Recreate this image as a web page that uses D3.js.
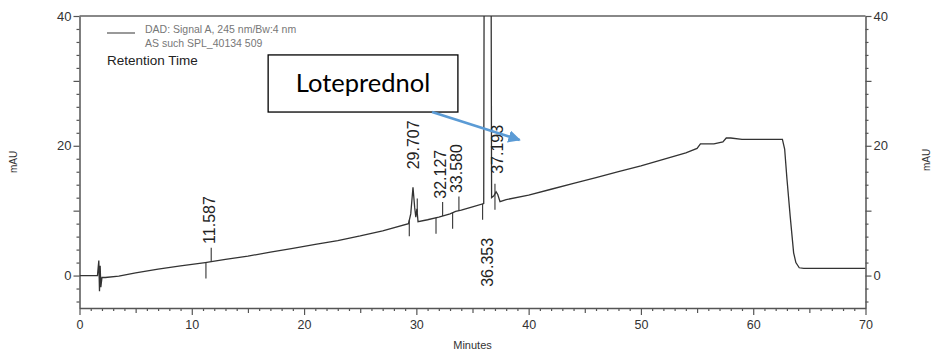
<!DOCTYPE html>
<html>
<head>
<meta charset="utf-8">
<script src="https://cdn.jsdelivr.net/npm/d3@7"></script>
<style>
  body { margin: 0; background: #fff; }
  svg { display: block; font-family: "Liberation Sans", Arial, sans-serif; }
</style>
</head>
<body>
<div id="chart"></div>
<script>
// signal trace (minutes, mAU)
var times = [0, 1.6, 1.72, 1.78, 1.84, 1.9, 2.0, 2.3, 3.5, 5, 7, 9, 11.2, 11.6, 13, 15, 17, 19, 21, 23, 25, 27,
  29.3, 29.5, 29.7, 29.85, 29.95, 30.05, 30.15, 31, 32, 33, 33.5, 34, 35, 36.0, 36.05, 36.35, 36.64, 36.7,
  36.9, 37.1, 37.25, 37.45, 38, 40, 42, 44, 46, 48, 50, 52, 54, 55, 55.3, 56.5, 57.3, 57.6, 58, 59, 61,
  62.6, 62.8, 63.0, 63.3, 63.6, 63.8, 64.1, 64.5, 70];
var signal = [0, 0, 2.3, -2.4, 1.5, -1.8, -0.3, -0.3, -0.1, 0.4, 1.0, 1.5, 2.0, 2.1, 2.5, 3.0, 3.6, 4.2, 4.8, 5.4, 6.1, 6.9,
  8.0, 9.5, 13.6, 10.5, 9.0, 10.3, 8.3, 8.6, 9.0, 9.5, 9.9, 10.1, 10.6, 11.1, 60, 300, 60, 12.0,
  12.3, 12.9, 12.5, 11.4, 11.7, 12.4, 13.3, 14.2, 15.1, 16.0, 16.9, 17.9, 18.9, 19.6, 20.3, 20.3, 20.6, 21.2, 21.2, 21.0, 21.0,
  21.0, 19.5, 15, 9.0, 3.5, 2.0, 1.2, 1.1, 1.1];

// integrated peaks: retention time, start and end marks
var peakLabels = ["11.587", "29.707", "32.127", "33.580", "36.353", "37.193"];
var peakTimes = [11.587, 29.707, 32.127, 33.580, 36.353, 37.193];
var peakStart = [11.26, 29.37, 31.75, 33.23, 35.90, 37.0];
var peakEnd = [11.73, 30.08, 32.34, 33.79, null, null];

var xTicks = d3.range(0, 71, 1);
var yTicks = d3.range(-4, 41, 2);

// callout (in minutes / mAU)
var calloutText = "Loteprednol";
var calloutBox = [16.8, 33.7, 34.0, 25.2];   // t0, t1, top, bottom
var calloutArrow = [31.4, 25.2, 39.2, 20.9];  // from t, v -> to t, v

var W = 934, H = 354;
var svg = d3.select("#chart")
  .append("svg")
  .attr("width", W)
  .attr("height", H);

var x = d3.scaleLinear().domain([0, 70]).range([79.5, 865.5]);
var y = d3.scaleLinear().domain([-5, 40]).range([308, 16]);

var axisCol = "#555", textCol = "#333";

svg.append("defs").append("clipPath").attr("id", "plotclip")
  .append("rect")
  .attr("x", x(0)).attr("y", y(40))
  .attr("width", x(70) - x(0)).attr("height", y(-5) - y(40));

// top frame
svg.append("line")
  .attr("x1", x(0)).attr("x2", x(70))
  .attr("y1", y(40)).attr("y2", y(40))
  .style("stroke", "#888").style("stroke-width", 2);

// axes
var xAxis = svg.append("g")
  .attr("transform", "translate(0," + y(-5) + ")")
  .call(d3.axisBottom(x).tickValues(xTicks).tickSizeOuter(0)
    .tickFormat(function(d) { return d % 10 === 0 ? d : ""; }));
xAxis.selectAll(".tick line").attr("y2", function(d) {
  return d % 10 === 0 ? 7 : (d % 5 === 0 ? 5 : 3);
});

var yLeft = svg.append("g")
  .attr("transform", "translate(" + x(0) + ",0)")
  .call(d3.axisLeft(y).tickValues(yTicks).tickSizeOuter(0)
    .tickFormat(function(d) { return d % 20 === 0 ? d : ""; }));
yLeft.selectAll(".tick line").attr("x2", function(d) { return d % 10 === 0 ? -6 : -3; });

var yRight = svg.append("g")
  .attr("transform", "translate(" + x(70) + ",0)")
  .call(d3.axisRight(y).tickValues(yTicks).tickSizeOuter(0)
    .tickFormat(function(d) { return d % 20 === 0 ? d : ""; }));
yRight.selectAll(".tick line").attr("x2", function(d) { return d % 10 === 0 ? 6 : 3; });

svg.selectAll(".domain").style("stroke", axisCol).style("stroke-width", 1.5);
svg.selectAll(".tick line").style("stroke", axisCol).style("stroke-width", 1.2);
svg.selectAll(".tick text").style("fill", textCol).style("font-family", "Liberation Sans, Arial, sans-serif");
xAxis.selectAll(".tick text").style("font-size", "12.5px").attr("y", 12);
yLeft.selectAll(".tick text").style("font-size", "13px").attr("x", -8);
yRight.selectAll(".tick text").style("font-size", "13px").attr("x", 8);

// axis titles
svg.append("text")
  .attr("transform", "translate(17,162) rotate(-90)")
  .attr("text-anchor", "middle")
  .style("font-size", "10px").style("fill", textCol)
  .text("mAU");
svg.append("text")
  .attr("transform", "translate(930,160) rotate(-90)")
  .attr("text-anchor", "middle")
  .style("font-size", "10px").style("fill", textCol)
  .text("mAU");
svg.append("text")
  .attr("x", (x(0) + x(70)) / 2).attr("y", 349)
  .attr("text-anchor", "middle")
  .style("font-size", "11px").style("fill", textCol)
  .text("Minutes");

// trace
var pts = times.map(function(t, i) { return [t, signal[i]]; });
var line = d3.line()
  .x(function(d) { return x(d[0]); })
  .y(function(d) { return y(d[1]); });

svg.append("path")
  .datum(pts)
  .attr("clip-path", "url(#plotclip)")
  .attr("d", line)
  .style("fill", "none")
  .style("stroke", "#333")
  .style("stroke-width", 1.3);

// baseline value at a time (from the trace itself)
var valueAt = function(t) {
  var i = d3.bisectLeft(times, t);
  if (i <= 0) return signal[0];
  var t0 = times[i - 1], t1 = times[i];
  var f = (t - t0) / (t1 - t0);
  return signal[i - 1] + f * (signal[i] - signal[i - 1]);
};
var apexNear = function(t) {
  var m = -Infinity;
  times.forEach(function(tt, i) { if (Math.abs(tt - t) < 0.3) m = Math.max(m, signal[i]); });
  return Math.max(m, valueAt(t));
};

// peak start / end marks
peakStart.forEach(function(t) {
  svg.append("line")
    .attr("x1", x(t)).attr("x2", x(t))
    .attr("y1", y(valueAt(t))).attr("y2", y(valueAt(t)) + 16)
    .style("stroke", "#333").style("stroke-width", 1.1);
});
peakEnd.forEach(function(t) {
  if (t === null) return;
  svg.append("line")
    .attr("x1", x(t)).attr("x2", x(t))
    .attr("y1", y(valueAt(t))).attr("y2", y(valueAt(t)) - 14)
    .style("stroke", "#333").style("stroke-width", 1.1);
});
// 37.193 mark crosses the trace
svg.append("line")
  .attr("x1", x(peakStart[5])).attr("x2", x(peakStart[5]))
  .attr("y1", y(valueAt(peakStart[5])) - 10).attr("y2", y(valueAt(peakStart[5])))
  .style("stroke", "#333").style("stroke-width", 1.1);

// retention time labels
peakTimes.forEach(function(t, i) {
  var top = apexNear(t);
  var px = x(t), py, anchor;
  if (top > 40) {
    // off scale: label under the start mark
    py = y(valueAt(peakStart[i])) + 16 + 18;
    anchor = "end";
  } else {
    py = y(top) - 18;
    anchor = "start";
  }
  svg.append("text")
    .attr("transform", "translate(" + px + "," + py + ") rotate(-90)")
    .attr("dy", "0.36em")
    .attr("text-anchor", anchor)
    .style("font-size", "16px")
    .style("fill", "#222")
    .text(peakLabels[i]);
});

// legend
svg.append("line")
  .attr("x1", 107).attr("x2", 135).attr("y1", 33).attr("y2", 33)
  .style("stroke", "#555").style("stroke-width", 1.2);
svg.append("text").attr("x", 145).attr("y", 33)
  .style("font-size", "10.5px").style("fill", "#777")
  .text("DAD: Signal A, 245 nm/Bw:4 nm");
svg.append("text").attr("x", 145).attr("y", 47)
  .style("font-size", "10.5px").style("fill", "#777")
  .text("AS such SPL_40134 509");
svg.append("text").attr("x", 107).attr("y", 65)
  .style("font-size", "13.5px").style("fill", "#222")
  .text("Retention Time");

// callout box + arrow
svg.append("rect")
  .attr("x", x(calloutBox[0])).attr("y", y(calloutBox[2]))
  .attr("width", x(calloutBox[1]) - x(calloutBox[0]))
  .attr("height", y(calloutBox[3]) - y(calloutBox[2]))
  .style("fill", "#fff").style("stroke", "#000").style("stroke-width", 1.3);
svg.append("text")
  .attr("x", (x(calloutBox[0]) + x(calloutBox[1])) / 2)
  .attr("y", (y(calloutBox[2]) + y(calloutBox[3])) / 2)
  .attr("dy", "0.35em")
  .attr("text-anchor", "middle")
  .style("font-family", "Lato, 'Open Sans', sans-serif")
  .style("font-size", "25.5px").style("fill", "#000")
  .text(calloutText);

svg.select("defs").append("marker")
  .attr("id", "arrowhead")
  .attr("viewBox", "0 0 10 10")
  .attr("refX", 9).attr("refY", 5)
  .attr("markerWidth", 5).attr("markerHeight", 5)
  .attr("orient", "auto")
  .append("path").attr("d", "M0,0 L10,5 L0,10 z")
  .style("fill", "#5b9bd5");

svg.append("line")
  .attr("x1", x(calloutArrow[0])).attr("y1", y(calloutArrow[1]))
  .attr("x2", x(calloutArrow[2])).attr("y2", y(calloutArrow[3]))
  .attr("marker-end", "url(#arrowhead)")
  .style("stroke", "#5b9bd5").style("stroke-width", 2.5);
</script>
</body>
</html>
